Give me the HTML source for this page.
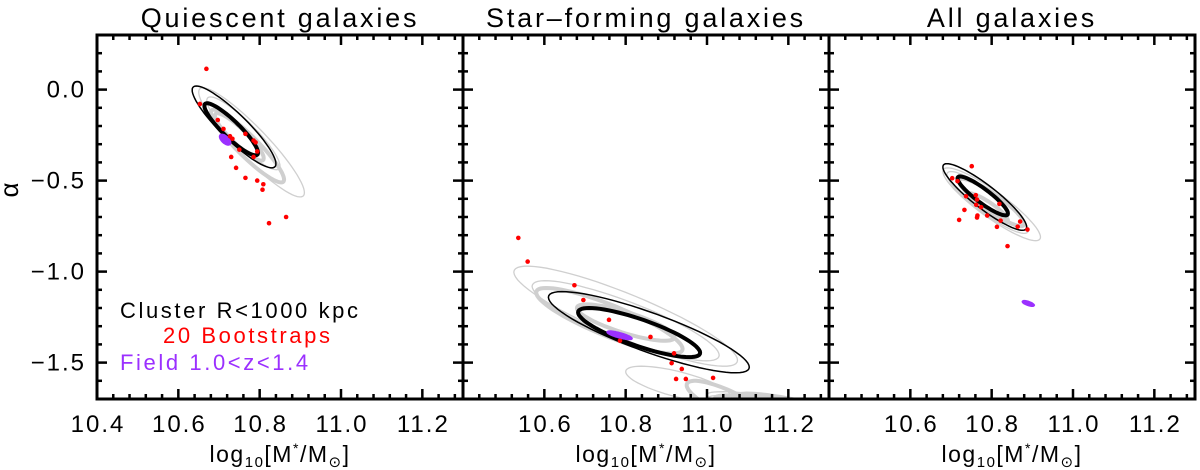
<!DOCTYPE html>
<html><head><meta charset="utf-8"><style>
html,body{margin:0;padding:0;background:#fff;}
svg{display:block;font-family:"Liberation Sans","DejaVu Sans",sans-serif;}
</style></head><body>
<svg id="chart" width="1200" height="470" viewBox="0 0 1200 470"></svg>
<script>
const xTicks=[10.4,10.6,10.8,11.0,11.2];
const yTicks=[0.0,-0.5,-1.0,-1.5];
const panelTitles=["Quiescent galaxies","Star\u2013forming galaxies","All galaxies"];
// ellipses: [cx, cy, sx, sy, rho]
const blackThin=[[10.737,-0.205,0.103,0.225,-0.9],[10.857,-1.333,0.247,0.223,-0.86],[10.783,-0.59,0.103,0.183,-0.9]];
const blackThick=[[10.73,-0.218,0.066,0.143,-0.9],[10.833,-1.335,0.15,0.135,-0.82],[10.778,-0.584,0.062,0.107,-0.9]];
const grayThin=[
 [[10.78,-0.29,0.13,0.30,-0.92],[10.76,-0.24,0.09,0.2,-0.9]],
 [[10.8,-1.245,0.275,0.275,-0.88],[10.8,-1.27,0.23,0.22,-0.86],[10.93,-1.62,0.13,0.1,-0.7],[11.3,-1.8,0.3,0.14,-0.88],[11.35,-1.82,0.35,0.14,-0.88]],
 [[10.8,-0.63,0.12,0.2,-0.9],[10.79,-0.62,0.1,0.17,-0.9]]];
const grayThick=[
 [[10.77,-0.31,0.09,0.2,-0.92],[10.75,-0.26,0.06,0.13,-0.9]],
 [[10.76,-1.27,0.18,0.18,-0.86],[10.8,-1.28,0.12,0.1,-0.8],[11.05,-1.72,0.1,0.12,-0.8],[11.3,-1.8,0.28,0.12,-0.88],[11.22,-1.76,0.15,0.09,-0.8]],
 [[10.8,-0.62,0.08,0.13,-0.9],[10.79,-0.65,0.05,0.08,-0.88]]];
const purpleEl=[[10.715,-0.275,0.013,0.028,-0.6],[10.785,-1.35,0.03,0.022,-0.8],[10.89,-1.175,0.014,0.014,-0.7]];
const redX=[
 [10.669,10.653,10.697,10.711,10.727,10.733,10.765,10.785,10.79,10.794,10.75,10.785,10.73,10.742,10.765,10.794,10.809,10.807,10.823,10.865],
 [10.536,10.559,10.674,10.696,10.759,10.861,10.786,10.919,10.913,10.938,10.924,10.948,11.015],
 [10.751,10.703,10.716,10.737,10.761,10.764,10.762,10.774,10.733,10.72,10.765,10.764,10.789,10.819,10.822,10.813,10.87,10.864,10.888,10.839]];
const redY=[
 [0.114,-0.079,-0.167,-0.216,-0.256,-0.27,-0.243,-0.28,-0.29,-0.34,-0.33,-0.37,-0.37,-0.43,-0.485,-0.5,-0.52,-0.55,-0.734,-0.70],
 [-0.815,-0.945,-1.075,-1.156,-1.265,-1.359,-1.38,-1.449,-1.503,-1.535,-1.59,-1.59,-1.584],
 [-0.421,-0.487,-0.503,-0.586,-0.58,-0.604,-0.633,-0.646,-0.661,-0.716,-0.692,-0.703,-0.692,-0.628,-0.72,-0.754,-0.725,-0.753,-0.769,-0.86]];

const NS="http://www.w3.org/2000/svg";
const svg=document.getElementById('chart');
const X0=[97,463,829],PW=366,TOP=35,BOT=399;
const XMIN=10.4,XMAX=11.3,YMIN=-1.7,YMAX=0.3;
function sx(p,v){return X0[p]+(v-XMIN)/(XMAX-XMIN)*PW;}
function sy(v){return TOP+(YMAX-v)/(YMAX-YMIN)*(BOT-TOP);}
function mk(tag,attrs,parent){const e=document.createElementNS(NS,tag);for(const k in attrs)e.setAttribute(k,attrs[k]);(parent||svg).appendChild(e);return e;}
const defs=mk('defs',{});
for(let p=0;p<3;p++){const c=mk('clipPath',{id:'clip'+p},defs);mk('rect',{x:X0[p],y:TOP,width:PW,height:BOT-TOP},c);}
function ell(p,e,stroke,w,fill,g){
 const [cx,cy,a,b,r]=e;let d='';
 for(let i=0;i<=72;i++){const t=i/72*2*Math.PI;
  const x=cx+a*Math.cos(t),y=cy+b*(r*Math.cos(t)+Math.sqrt(1-r*r)*Math.sin(t));
  d+=(i?'L':'M')+sx(p,x).toFixed(1)+','+sy(y).toFixed(1);}
 const el=mk('path',{d:d+'Z',fill:fill||'none',stroke:stroke,'stroke-width':w},g);return el;}
for(let p=0;p<3;p++){
 const g=mk('g',{'clip-path':'url(#clip'+p+')'});
 
 
 grayThin[p].forEach(e=>{const el=ell(p,e,'#cfcfcf',1.3,null,g);});
 grayThick[p].forEach(e=>{const el=ell(p,e,'#cfcfcf',4,null,g);});
 let el=ell(p,blackThin[p],'#000',1.5,null,g);
 
 
 el=ell(p,blackThick[p],'#000',4,null,g);
 
 
 el=ell(p,purpleEl[p],'#9b30ff',2,'#9b30ff',g);
 
 
 for(let i=0;i<redX[p].length;i++){
  const c=mk('circle',{cx:sx(p,redX[p][i]),cy:sy(redY[p][i]),r:2.3,fill:'#ff0000'},g);
  
  }
 const f=mk('rect',{x:X0[p],y:TOP,width:PW,height:BOT-TOP,fill:'none',stroke:'#000','stroke-width':3});
 
 
 for(let k=0;k<=22;k++){const v=XMIN+k*0.04;if(v>XMAX+1e-6)break;const X=sx(p,v);
  const major=Math.abs((v-10.4)/0.2-Math.round((v-10.4)/0.2))<1e-6;const L=major?10:5;
  mk('line',{x1:X,x2:X,y1:BOT,y2:BOT-L,stroke:'#000','stroke-width':2.5});
  mk('line',{x1:X,x2:X,y1:TOP,y2:TOP+L,stroke:'#000','stroke-width':2.5});}
 for(let k=0;k<=20;k++){const v=YMAX-k*0.1;const Y=sy(v);
  const major=Math.abs(v*2-Math.round(v*2))<1e-6;const L=major?10:5;
  mk('line',{x1:X0[p],x2:X0[p]+L,y1:Y,y2:Y,stroke:'#000','stroke-width':2.5});
  mk('line',{x1:X0[p]+PW,x2:X0[p]+PW-L,y1:Y,y2:Y,stroke:'#000','stroke-width':2.5});}
 xTicks.forEach(v=>{if(p>0&&v<10.5)return;
  const t=mk('text',{x:sx(p,v)+1,y:BOT+33,'text-anchor':'middle','font-size':24,'letter-spacing':2});t.textContent=v.toFixed(1);
  
  });
 const tt=mk('text',{x:X0[p]+PW/2,y:27,'text-anchor':'middle','font-size':27,'letter-spacing':2.8});tt.textContent=panelTitles[p];
 
 
 const xl=mk('text',{x:X0[p]+PW/2,y:462,'text-anchor':'middle','font-size':23,'letter-spacing':1.5});
 xl.innerHTML='log<tspan font-size="15" dy="5">10</tspan><tspan dy="-5">[M</tspan><tspan font-size="14" dy="-9">*</tspan><tspan dy="9">/M</tspan><tspan font-size="15" dy="5">\u2299</tspan><tspan dy="-5">]</tspan>';
 
 
}
yTicks.forEach(v=>{const t=mk('text',{x:86,y:sy(v)+8,'text-anchor':'end','font-size':24,'letter-spacing':2});t.textContent=(v===0?'0.0':v.toFixed(1).replace('-','\u2212'));
 
 });
const ya=mk('text',{x:12,y:196,'text-anchor':'middle','font-size':26,transform:'rotate(-90 12 190)'});ya.textContent='\u03b1';


const leg=[['Cluster R<1000 kpc','#000',120,318],['20 Bootstraps','#ff0000',163,343],['Field 1.0<z<1.4','#9b30ff',120,370]];
leg.forEach(l=>{const t=mk('text',{x:l[2],y:l[3],'font-size':22,'letter-spacing':2.6,fill:l[1]});t.textContent=l[0];
 
 });
</script>
</body></html>
